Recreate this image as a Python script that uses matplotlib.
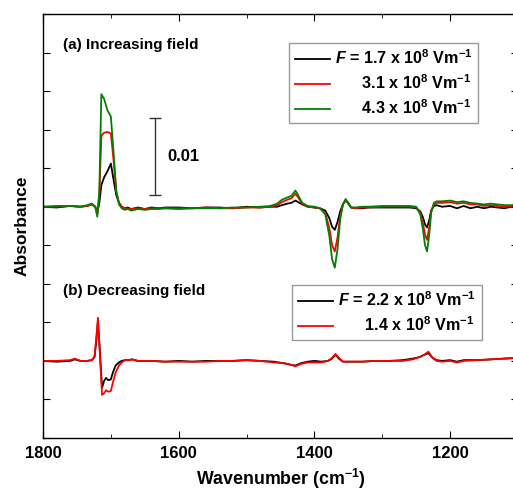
import numpy as np
import matplotlib
matplotlib.use("Agg")
import matplotlib.pyplot as plt
from matplotlib.ticker import MultipleLocator

plt.rcParams['font.family'] = ['Liberation Sans', 'DejaVu Sans']
plt.rcParams['font.weight'] = 'bold'
plt.rcParams['axes.labelweight'] = 'bold'
plt.rcParams['mathtext.fontset'] = 'custom'
plt.rcParams['mathtext.rm'] = 'Liberation Sans:bold'
plt.rcParams['mathtext.it'] = 'Liberation Sans:italic:bold'
plt.rcParams['mathtext.bf'] = 'Liberation Sans:bold'

# (a) increasing field, absorbance in units of 1e-3
wn_a = [1800, 1780, 1760, 1745, 1735, 1728, 1723, 1720, 1717, 1714, 1710, 1705, 1700,
        1696, 1692, 1688, 1684, 1680, 1675, 1670, 1660, 1650, 1640, 1630, 1620, 1600,
        1580, 1560, 1540, 1520, 1500, 1480, 1465, 1455, 1448, 1440, 1434, 1428, 1424,
        1418, 1410, 1400, 1392, 1384, 1378, 1374, 1370, 1366, 1362, 1358, 1354, 1350,
        1346, 1340, 1330, 1320, 1300, 1280, 1260, 1250, 1244, 1240, 1237, 1234, 1231,
        1228, 1224, 1220, 1212, 1200, 1190, 1180, 1170, 1160, 1150, 1140, 1130, 1120,
        1110, 1100]
black_a = [0.0, -0.1, 0.1, 0.0, 0.1, 0.3, 0.0, -0.8, 0.5, 2.8, 3.8, 4.6, 5.6,
           3.5, 1.5, 0.5, 0.0, -0.2, -0.1, -0.3, -0.1, -0.3, -0.1, -0.2, -0.1, -0.1,
           -0.2, -0.1, -0.1, -0.2, 0.0, -0.1, 0.0, 0.0, 0.2, 0.4, 0.5, 0.8, 0.6,
           0.3, 0.0, -0.1, -0.2, -0.5, -1.5, -2.6, -3.0, -2.0, -0.6, 0.3, 0.8, 0.5,
           -0.1, -0.2, -0.2, -0.1, -0.1, -0.1, -0.1, -0.2, -0.6, -1.4, -2.3, -2.7, -1.8,
           -0.5, 0.1, 0.2, 0.0, 0.1, -0.2, 0.1, -0.2, 0.0, -0.2, 0.0, -0.1, -0.2,
           0.0, 0.1]
red_a = [0.0, 0.0, 0.1, 0.0, 0.1, 0.3, 0.0, -1.0, 1.5, 9.2, 9.6, 9.7, 9.5,
         6.0, 2.0, 0.5, 0.0, -0.2, -0.2, -0.3, -0.2, -0.3, -0.2, -0.2, -0.2, -0.2,
         -0.2, -0.1, -0.2, -0.2, -0.1, -0.1, 0.0, 0.2, 0.6, 0.9, 1.1, 1.7, 1.2,
         0.4, 0.0, -0.1, -0.2, -0.8, -2.8, -5.0, -5.8, -4.0, -1.2, 0.3, 0.9, 0.4,
         -0.1, -0.2, -0.1, -0.1, 0.0, 0.0, 0.0, -0.1, -0.8, -2.2, -3.6, -4.3, -2.8,
         -0.6, 0.3, 0.5, 0.5, 0.6, 0.4, 0.5, 0.3, 0.3, 0.1, 0.2, 0.1, 0.0,
         0.1, 0.2]
green_a = [0.0, 0.1, 0.1, 0.0, 0.2, 0.4, 0.0, -1.3, 2.0, 14.6, 14.0, 12.5, 11.7,
           7.0, 2.0, 0.3, -0.2, -0.4, -0.3, -0.5, -0.3, -0.4, -0.3, -0.3, -0.2, -0.3,
           -0.2, -0.2, -0.2, -0.1, -0.1, 0.0, 0.1, 0.4, 0.9, 1.2, 1.4, 2.1, 1.5,
           0.5, 0.1, 0.0, -0.2, -1.0, -3.8, -6.8, -7.9, -5.5, -1.6, 0.3, 1.0, 0.4,
           -0.1, -0.1, 0.0, 0.0, 0.1, 0.1, 0.1, 0.0, -1.0, -3.0, -5.0, -5.8, -3.8,
           -0.8, 0.5, 0.7, 0.7, 0.8, 0.6, 0.7, 0.5, 0.4, 0.3, 0.4, 0.3, 0.2,
           0.2, 0.3]

# (b) decreasing field, absorbance in units of 1e-3 (relative to its own baseline)
wn_b = [1800, 1780, 1760, 1753, 1745, 1735, 1728, 1724, 1721, 1719, 1716, 1713, 1710,
        1707, 1704, 1700, 1697, 1693, 1688, 1684, 1679, 1674, 1669, 1660, 1640, 1620,
        1600, 1580, 1560, 1540, 1520, 1500, 1480, 1460, 1445, 1435, 1428, 1420, 1410,
        1400, 1390, 1380, 1374, 1369, 1364, 1358, 1350, 1330, 1310, 1290, 1270, 1255,
        1245, 1238, 1232, 1226, 1220, 1212, 1200, 1190, 1180, 1160, 1140, 1120, 1100]
black_b = [0.0, -0.1, 0.0, 0.2, 0.0, 0.0, 0.1, 0.5, 3.0, 5.2, 1.0, -3.5, -2.6,
           -2.2, -2.5, -2.4, -1.5, -0.6, -0.2, 0.0, 0.1, 0.1, 0.2, 0.0, 0.0, -0.1,
           0.0, -0.1, 0.0, 0.0, 0.0, 0.1, 0.0, -0.1, -0.3, -0.5, -0.6, -0.3, -0.1,
           0.0, -0.1, 0.0, 0.3, 0.8, 0.3, -0.1, -0.1, -0.1, 0.0, 0.0, 0.1, 0.3,
           0.5, 0.8, 1.0, 0.4, 0.1, 0.0, 0.1, -0.1, 0.1, 0.1, 0.2, 0.3, 0.4]
red_b = [0.0, 0.0, 0.1, 0.3, 0.0, 0.0, 0.1, 0.6, 3.5, 5.6, 0.5, -4.4, -4.2,
         -3.8, -4.0, -3.9, -2.8, -1.5, -0.6, -0.2, 0.1, 0.1, 0.2, 0.0, 0.0, -0.1,
         -0.1, -0.1, -0.1, 0.0, 0.0, 0.1, 0.0, -0.2, -0.3, -0.5, -0.7, -0.4, -0.2,
         -0.2, -0.2, 0.0, 0.4, 0.9, 0.4, -0.1, -0.1, -0.1, 0.0, 0.0, 0.0, 0.2,
         0.5, 0.8, 1.2, 0.4, 0.0, -0.1, 0.0, -0.2, 0.0, 0.1, 0.2, 0.3, 0.4]

labels_a = [r'$\mathit{F}$ = 1.7 x 10$^{8}$ Vm$^{-1}$',
            r'      3.1 x 10$^{8}$ Vm$^{-1}$',
            r'      4.3 x 10$^{8}$ Vm$^{-1}$']
labels_b = [r'$\mathit{F}$ = 2.2 x 10$^{8}$ Vm$^{-1}$',
            r'      1.4 x 10$^{8}$ Vm$^{-1}$']

offset_b = -20.0

fig = plt.figure(figsize=(5.13, 4.92), dpi=100)
ax = fig.add_axes([43/513, 1 - 438/492, 475/513, 424/492])

wa = np.array(wn_a)
wb = np.array(wn_b)
la = []
la += ax.plot(wa, np.array(black_a) / 1000, color='black', lw=1.3)
la += ax.plot(wa, np.array(red_a) / 1000, color='#ff0000', lw=1.3)
la += ax.plot(wa, np.array(green_a) / 1000, color='#008000', lw=1.3)
lb = []
lb += ax.plot(wb, (np.array(black_b) + offset_b) / 1000, color='black', lw=1.3)
lb += ax.plot(wb, (np.array(red_b) + offset_b) / 1000, color='#ff0000', lw=1.3)

ax.set_xlim(1800, 1100)
ax.set_ylim(-0.030, 0.025)
ax.xaxis.set_major_locator(MultipleLocator(200))
ax.xaxis.set_minor_locator(MultipleLocator(100))
ax.yaxis.set_major_locator(MultipleLocator(0.005))
ax.tick_params(which='both', direction='in', top=True, right=True)
ax.tick_params(which='major', length=5, labelsize=12, pad=6)
ax.tick_params(which='minor', length=3)
ax.set_yticklabels([])
for s in ax.spines.values():
    s.set_linewidth(1.0)

ax.set_xlabel('Wavenumber (cm$^{-1}$)', fontsize=12.8, labelpad=4)
ax.set_ylabel('Absorbance', fontsize=12.5, labelpad=4)

ax.text(0.043, 0.926, '(a) Increasing field', transform=ax.transAxes,
        fontsize=11, va='center')
ax.text(0.043, 0.346, '(b) Decreasing field', transform=ax.transAxes,
        fontsize=11, va='center')

# scale bar 0.01
ax.errorbar([1635], [0.0065], yerr=[0.005], color='#333333', lw=1.0,
            capsize=4, capthick=1.0)
ax.text(1617, 0.0065, '0.01', fontsize=12, va='center', ha='left')

leg_kw = dict(fontsize=11.6, frameon=True, fancybox=False, edgecolor='#808080',
              handlelength=2.2, handletextpad=0.3, labelspacing=0.4,
              borderpad=0.35, borderaxespad=0.0, loc='upper left')
leg1 = ax.legend(la, labels_a, bbox_to_anchor=(0.518, 0.932), **leg_kw)
leg1.get_frame().set_linewidth(1.0)
ax.add_artist(leg1)
leg2 = ax.legend(lb, labels_b, bbox_to_anchor=(0.525, 0.361), **leg_kw)
leg2.get_frame().set_linewidth(1.0)

fig.savefig('out.png', dpi=100)
